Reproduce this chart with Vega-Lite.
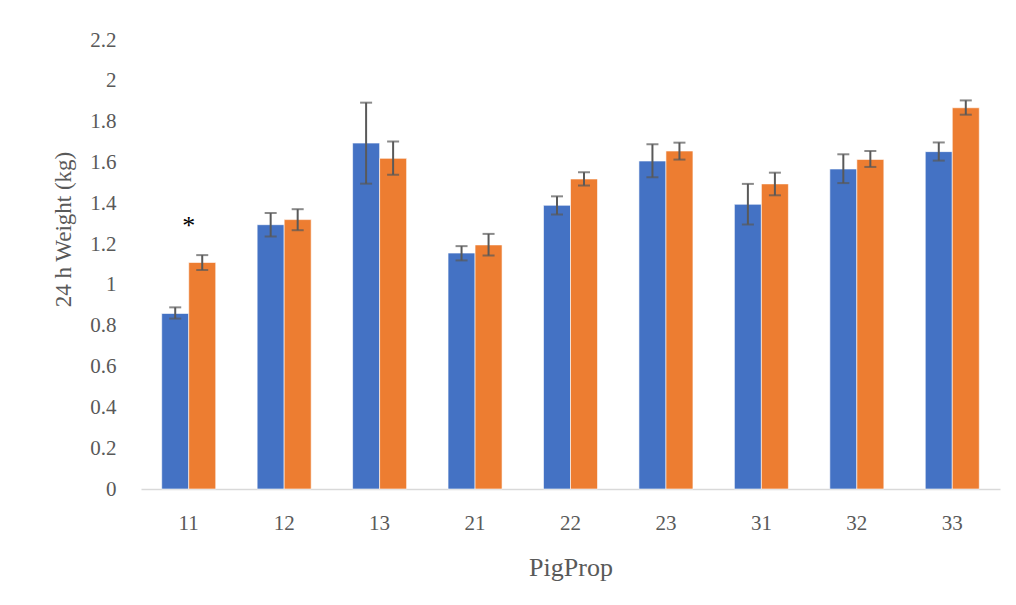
{
  "$schema": "https://vega.github.io/schema/vega-lite/v6.json",
  "autosize": {"type": "none"},
  "width": 859,
  "height": 449,
  "padding": {"left": 141, "top": 40, "right": 16, "bottom": 116},
  "background": "white",
  "config": {
    "view": {"stroke": null},
    "font": "Liberation Serif",
    "axis": {"labelFont": "Liberation Serif", "titleFont": "Liberation Serif", "labelColor": "#595959", "titleColor": "#595959", "titleFontWeight": "normal", "grid": false}
  },
  "datasets": {
    "bars": [
      {"pig": "11", "group": "A", "mean": 0.86, "lo": 0.835, "hi": 0.89},
      {"pig": "11", "group": "B", "mean": 1.11, "lo": 1.073, "hi": 1.146},
      {"pig": "12", "group": "A", "mean": 1.295, "lo": 1.237, "hi": 1.352},
      {"pig": "12", "group": "B", "mean": 1.32, "lo": 1.268, "hi": 1.371},
      {"pig": "13", "group": "A", "mean": 1.695, "lo": 1.496, "hi": 1.893},
      {"pig": "13", "group": "B", "mean": 1.62, "lo": 1.54, "hi": 1.703},
      {"pig": "21", "group": "A", "mean": 1.156, "lo": 1.12, "hi": 1.19},
      {"pig": "21", "group": "B", "mean": 1.196, "lo": 1.144, "hi": 1.25},
      {"pig": "22", "group": "A", "mean": 1.39, "lo": 1.345, "hi": 1.434},
      {"pig": "22", "group": "B", "mean": 1.519, "lo": 1.487, "hi": 1.552},
      {"pig": "23", "group": "A", "mean": 1.607, "lo": 1.527, "hi": 1.689},
      {"pig": "23", "group": "B", "mean": 1.656, "lo": 1.614, "hi": 1.697},
      {"pig": "31", "group": "A", "mean": 1.395, "lo": 1.296, "hi": 1.495},
      {"pig": "31", "group": "B", "mean": 1.495, "lo": 1.439, "hi": 1.55},
      {"pig": "32", "group": "A", "mean": 1.568, "lo": 1.499, "hi": 1.64},
      {"pig": "32", "group": "B", "mean": 1.615, "lo": 1.578, "hi": 1.656},
      {"pig": "33", "group": "A", "mean": 1.653, "lo": 1.609, "hi": 1.698},
      {"pig": "33", "group": "B", "mean": 1.868, "lo": 1.834, "hi": 1.904}
    ],
    "marks": [
      {"pig": "11", "label": "*", "pos": 1.29}
    ]
  },
  "encoding": {
    "x": {
      "field": "pig", "type": "nominal", "sort": null,
      "scale": {"paddingInner": 0.434, "paddingOuter": 0.217},
      "axis": {"title": "PigProp", "labelAngle": 0, "labelFontSize": 21, "labelBaseline": "middle", "labelPadding": 34, "ticks": false, "tickSize": 0, "domainColor": "#d9d9d9", "domainWidth": 1.5, "titleFontSize": 26, "titleBaseline": "middle", "titleY": 78}
    },
    "y": {
      "type": "quantitative",
      "scale": {"domain": [0, 2.2], "nice": false},
      "axis": {"title": "24 h Weight (kg)", "values": [0, 0.2, 0.4, 0.6, 0.8, 1, 1.2, 1.4, 1.6, 1.8, 2, 2.2], "labelExpr": "format(datum.value, '.1~f')", "labelFontSize": 21, "labelPadding": 25, "ticks": false, "tickSize": 0, "domain": false, "titleFontSize": 23, "titleAngle": 270, "titleAlign": "center", "titleBaseline": "middle", "titleX": -78, "titleY": 189}
    }
  },
  "layer": [
    {
      "data": {"name": "bars"},
      "mark": {"type": "bar", "stroke": "white", "strokeWidth": 0.6},
      "encoding": {
        "y": {"field": "mean"},
        "xOffset": {"field": "group", "type": "nominal", "scale": {"paddingInner": 0, "paddingOuter": 0}},
        "color": {"field": "group", "type": "nominal", "scale": {"domain": ["A", "B"], "range": ["#4472C4", "#ED7D31"]}, "legend": null}
      }
    },
    {
      "data": {"name": "bars"},
      "mark": {"type": "rule", "color": "#595959", "strokeWidth": 2},
      "encoding": {
        "y": {"field": "lo"},
        "y2": {"field": "hi"},
        "xOffset": {"field": "group", "type": "nominal"}
      }
    },
    {
      "data": {"name": "bars"},
      "mark": {"type": "tick", "color": "#595959", "size": 12, "thickness": 2, "orient": "horizontal"},
      "encoding": {
        "y": {"field": "lo"},
        "xOffset": {"field": "group", "type": "nominal"}
      }
    },
    {
      "data": {"name": "bars"},
      "mark": {"type": "tick", "color": "#595959", "size": 12, "thickness": 2, "orient": "horizontal"},
      "encoding": {
        "y": {"field": "hi"},
        "xOffset": {"field": "group", "type": "nominal"}
      }
    },
    {
      "data": {"name": "marks"},
      "mark": {"type": "text", "fontSize": 26, "color": "#000000", "baseline": "middle", "align": "center", "font": "Liberation Serif"},
      "encoding": {
        "y": {"field": "pos"},
        "text": {"field": "label"}
      }
    }
  ]
}
